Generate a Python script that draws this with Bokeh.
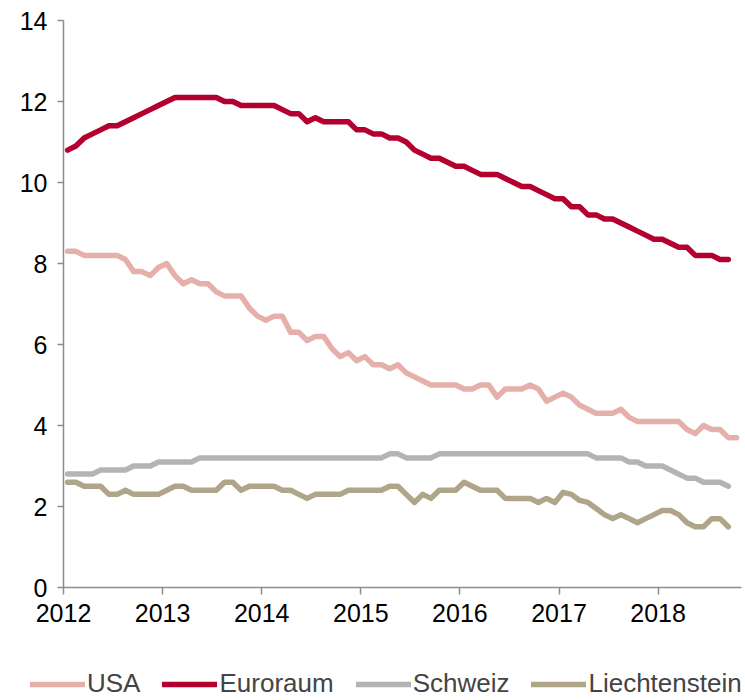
from bokeh.plotting import figure
from bokeh.models import Legend, LegendItem, FixedTicker, Range1d
from bokeh.embed import file_html
from bokeh.resources import INLINE

# Monthly unemployment rates (%) from Jan 2012
start_year = 2012
usa = [8.3, 8.3, 8.2, 8.2, 8.2, 8.2, 8.2, 8.1, 7.8, 7.8, 7.7, 7.9,
       8.0, 7.7, 7.5, 7.6, 7.5, 7.5, 7.3, 7.2, 7.2, 7.2, 6.9, 6.7,
       6.6, 6.7, 6.7, 6.3, 6.3, 6.1, 6.2, 6.2, 5.9, 5.7, 5.8, 5.6,
       5.7, 5.5, 5.5, 5.4, 5.5, 5.3, 5.2, 5.1, 5.0, 5.0, 5.0, 5.0,
       4.9, 4.9, 5.0, 5.0, 4.7, 4.9, 4.9, 4.9, 5.0, 4.9, 4.6, 4.7,
       4.8, 4.7, 4.5, 4.4, 4.3, 4.3, 4.3, 4.4, 4.2, 4.1, 4.1, 4.1,
       4.1, 4.1, 4.1, 3.9, 3.8, 4.0, 3.9, 3.9, 3.7, 3.7]
euroraum = [10.8, 10.9, 11.1, 11.2, 11.3, 11.4, 11.4, 11.5, 11.6, 11.7, 11.8, 11.9,
            12.0, 12.1, 12.1, 12.1, 12.1, 12.1, 12.1, 12.0, 12.0, 11.9, 11.9, 11.9,
            11.9, 11.9, 11.8, 11.7, 11.7, 11.5, 11.6, 11.5, 11.5, 11.5, 11.5, 11.3,
            11.3, 11.2, 11.2, 11.1, 11.1, 11.0, 10.8, 10.7, 10.6, 10.6, 10.5, 10.4,
            10.4, 10.3, 10.2, 10.2, 10.2, 10.1, 10.0, 9.9, 9.9, 9.8, 9.7, 9.6,
            9.6, 9.4, 9.4, 9.2, 9.2, 9.1, 9.1, 9.0, 8.9, 8.8, 8.7, 8.6,
            8.6, 8.5, 8.4, 8.4, 8.2, 8.2, 8.2, 8.1, 8.1]
schweiz = [2.8, 2.8, 2.8, 2.8, 2.9, 2.9, 2.9, 2.9, 3.0, 3.0, 3.0, 3.1,
           3.1, 3.1, 3.1, 3.1, 3.2, 3.2, 3.2, 3.2, 3.2, 3.2, 3.2, 3.2,
           3.2, 3.2, 3.2, 3.2, 3.2, 3.2, 3.2, 3.2, 3.2, 3.2, 3.2, 3.2,
           3.2, 3.2, 3.2, 3.3, 3.3, 3.2, 3.2, 3.2, 3.2, 3.3, 3.3, 3.3,
           3.3, 3.3, 3.3, 3.3, 3.3, 3.3, 3.3, 3.3, 3.3, 3.3, 3.3, 3.3,
           3.3, 3.3, 3.3, 3.3, 3.2, 3.2, 3.2, 3.2, 3.1, 3.1, 3.0, 3.0,
           3.0, 2.9, 2.8, 2.7, 2.7, 2.6, 2.6, 2.6, 2.5]
liechtenstein = [2.6, 2.6, 2.5, 2.5, 2.5, 2.3, 2.3, 2.4, 2.3, 2.3, 2.3, 2.3,
                 2.4, 2.5, 2.5, 2.4, 2.4, 2.4, 2.4, 2.6, 2.6, 2.4, 2.5, 2.5,
                 2.5, 2.5, 2.4, 2.4, 2.3, 2.2, 2.3, 2.3, 2.3, 2.3, 2.4, 2.4,
                 2.4, 2.4, 2.4, 2.5, 2.5, 2.3, 2.1, 2.3, 2.2, 2.4, 2.4, 2.4,
                 2.6, 2.5, 2.4, 2.4, 2.4, 2.2, 2.2, 2.2, 2.2, 2.1, 2.2, 2.1,
                 2.35, 2.3, 2.15, 2.1, 1.95, 1.8, 1.7, 1.8, 1.7, 1.6, 1.7, 1.8,
                 1.9, 1.9, 1.8, 1.6, 1.5, 1.5, 1.7, 1.7, 1.5]

series_names = ["USA", "Euroraum", "Schweiz", "Liechtenstein"]
series_values = [usa, euroraum, schweiz, liechtenstein]
colors = ["#E5B0AA", "#B4002E", "#B4B4B4", "#AFA689"]
year_ticks = [2012, 2013, 2014, 2015, 2016, 2017, 2018]
y_ticks = [0, 2, 4, 6, 8, 10, 12, 14]

FONT = "Liberation Sans"

# Layout: frame fills the canvas; axes are pinned at x=2012 / y=0
W, H = 745, 700
LEFT_PX, TOP_PX, ZERO_PX = 63, 20, 587      # pixel positions of 2012, 14 and 0
PX_PER_YEAR, PX_PER_UNIT = 99.1, 40.5
x_start = 2012 - LEFT_PX / PX_PER_YEAR
x_end = 2012 + (W - LEFT_PX) / PX_PER_YEAR
y_end = 14 + TOP_PX / PX_PER_UNIT
y_start = -(H - ZERO_PX) / PX_PER_UNIT

p = figure(width=W, height=H, output_backend="svg", toolbar_location=None,
           x_range=Range1d(x_start, x_end), y_range=Range1d(y_start, y_end),
           min_border=0)
p.outline_line_color = None
p.xgrid.visible = False
p.ygrid.visible = False
p.background_fill_color = "white"
p.border_fill_color = "white"

items = []
for name, vals, col in zip(series_names, series_values, colors):
    xs = [start_year + (i + 0.5) / 12 for i in range(len(vals))]
    r = p.line(xs, vals, line_color=col, line_width=5.5, line_join="round", line_cap="round")
    items.append(LegendItem(label=name, renderers=[r]))

axis_col = "#8C8C8C"
for ax in (p.xaxis[0], p.yaxis[0]):
    ax.axis_line_color = axis_col
    ax.axis_line_width = 1.5
    ax.major_tick_line_color = axis_col
    ax.major_tick_line_width = 1.5
    ax.minor_tick_line_color = None
    ax.major_tick_in = 0
    ax.major_label_text_font = FONT
    ax.major_label_text_font_size = "25px"
    ax.major_label_text_color = "#000000"

p.xaxis.fixed_location = 0
p.xaxis.bounds = (2012, 2018.84)
p.xaxis.ticker = FixedTicker(ticks=year_ticks)
p.xaxis.major_tick_out = 7
p.xaxis.major_label_standoff = 9
p.yaxis.fixed_location = 2012
p.yaxis.bounds = (0, 14)
p.yaxis.ticker = FixedTicker(ticks=y_ticks)
p.yaxis.major_tick_out = 6
p.yaxis.major_label_standoff = 10

legend = Legend(items=items, orientation="horizontal", location=(30, 1),
                glyph_width=55, glyph_height=26, label_height=26,
                label_standoff=2, spacing=22, padding=0, margin=0,
                label_text_font=FONT, label_text_font_size="26px",
                border_line_alpha=0, background_fill_alpha=0)
p.add_layout(legend, "center")

open("out.html", "w").write(file_html(p, INLINE))
